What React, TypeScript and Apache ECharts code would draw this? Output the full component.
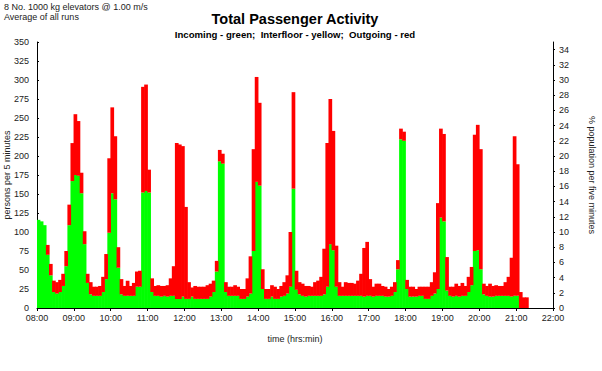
import React, { useEffect, useRef } from "react";
import * as echarts from "echarts";

// 5-minute bins from 08:00 to 22:00
const START_MIN = 480;
const BIN_MIN = 5;
const AXIS_MIN = 480;
const AXIS_MAX = 1320;
const BIN_COUNT = (AXIS_MAX - AXIS_MIN) / BIN_MIN;

// Incoming (green) persons per 5 minutes
const incoming = [
  116, 114, 109, 70, 43, 21, 19, 21, 29, 55, 109, 167,
  175, 174, 151, 84, 33, 18, 16, 16, 16, 21, 38, 99,
  151, 143, 53, 18, 16, 16, 16, 16, 28, 28, 152, 154,
  152, 21, 16, 16, 15, 16, 15, 16, 16, 12, 12, 15,
  12, 12, 15, 12, 12, 12, 12, 12, 15, 21, 48, 193,
  190, 21, 16, 16, 16, 16, 12, 12, 15, 19, 75, 166,
  161, 25, 12, 12, 15, 12, 12, 15, 16, 19, 28, 157,
  24, 18, 16, 15, 16, 16, 16, 16, 16, 18, 28, 84,
  76, 28, 16, 16, 16, 16, 16, 16, 16, 16, 15, 16,
  16, 15, 16, 16, 16, 15, 15, 16, 21, 51, 222, 220,
  25, 15, 15, 15, 16, 16, 12, 12, 16, 19, 25, 119,
  114, 23, 16, 15, 16, 15, 16, 16, 21, 30, 75, 76,
  51, 18, 16, 15, 15, 16, 16, 16, 16, 16, 15, 16,
  16, 0, 0, 0,
];

// Outgoing (red) persons per 5 minutes, stacked on incoming
const outgoing = [
  0, 0, 0, 13, 15, 15, 15, 16, 16, 20, 27, 50,
  80, 72, 27, 17, 12, 16, 12, 12, 13, 20, 33, 98,
  113, 83, 27, 20, 13, 20, 13, 17, 20, 21, 139, 140,
  30, 18, 13, 14, 14, 13, 15, 23, 39, 205, 203, 198,
  121, 22, 12, 17, 16, 16, 16, 18, 17, 15, 14, 15,
  13, 13, 12, 12, 14, 12, 13, 13, 24, 49, 134, 138,
  109, 26, 13, 13, 15, 16, 13, 14, 18, 24, 72, 127,
  25, 16, 16, 14, 13, 12, 18, 20, 25, 60, 189, 191,
  157, 54, 18, 12, 18, 17, 17, 16, 20, 29, 64, 71,
  22, 13, 16, 16, 13, 13, 10, 12, 13, 12, 14, 12,
  12, 13, 13, 10, 12, 12, 16, 16, 18, 28, 113, 117,
  115, 44, 12, 13, 16, 14, 17, 13, 20, 24, 153, 165,
  158, 14, 13, 17, 14, 14, 13, 13, 18, 25, 51, 210,
  173, 21, 14, 14,
];

const leftTicks = { min: 0, max: 350, interval: 25 };
const rightTicks = { min: 0, max: 35, interval: 2 };

const FONT = "'Liberation Sans', Arial, sans-serif";
const TXT = "#222";

function fmtTime(v: number): string {
  const h = Math.floor(v / 60);
  const m = Math.round(v % 60);
  return String(h).padStart(2, "0") + ":" + String(m).padStart(2, "0");
}

const binLabels: string[] = [];
for (let i = 0; i < BIN_COUNT; i++) binLabels.push(fmtTime(START_MIN + BIN_MIN * i));

export default function App() {
  const ref = useRef<HTMLDivElement>(null);
  useEffect(() => {
    document.body.style.margin = "0";
    if (!ref.current) return;
    const chart = echarts.init(ref.current, null, { renderer: "svg" });
    chart.setOption({
      animation: false,
      backgroundColor: "#fff",
      textStyle: { fontFamily: FONT },
      grid: { left: 37, right: 49, top: 42, bottom: 63, containLabel: false, outerBoundsMode: "none" },
      graphic: [
        { type: "text", left: 4, top: 2, style: { text: "8 No. 1000 kg elevators @ 1.00 m/s", fontSize: 9, fill: TXT, fontFamily: FONT } },
        { type: "text", left: 4, top: 12, style: { text: "Average of all runs", fontSize: 9, fill: TXT, fontFamily: FONT } },
        { type: "text", x: 295, y: 18.5, style: { text: "Total Passenger Activity", fontSize: 14.5, fontWeight: "bold", fill: "#000", fontFamily: FONT, align: "center", verticalAlign: "middle" } },
        { type: "text", x: 295, y: 34.5, style: { text: "Incoming - green;  Interfloor - yellow;  Outgoing - red", fontSize: 9.6, fontWeight: "bold", fill: "#000", fontFamily: FONT, align: "center", verticalAlign: "middle" } },
        { type: "text", x: 7, y: 175, rotation: Math.PI / 2, style: { text: "persons per 5 minutes", fontSize: 9, fill: TXT, fontFamily: FONT, align: "center", verticalAlign: "middle" } },
        { type: "text", x: 592, y: 175, rotation: -Math.PI / 2, style: { text: "% population per five minutes", fontSize: 9, fill: TXT, fontFamily: FONT, align: "center", verticalAlign: "middle" } },
      ],
      xAxis: [
        {
          type: "category",
          data: binLabels,
          boundaryGap: true,
          show: false,
        },
        {
          type: "value",
          min: AXIS_MIN,
          max: AXIS_MAX,
          interval: 60,
          position: "bottom",
          name: "time (hrs:min)",
          nameLocation: "middle",
          nameGap: 26,
          nameTextStyle: { fontSize: 9, color: TXT },
          axisLine: { show: true, onZero: false, lineStyle: { color: "#000", width: 1 } },
          axisTick: { show: true, length: 3, lineStyle: { color: "#000" } },
          axisLabel: { fontSize: 9, color: TXT, margin: 5, formatter: (v: number) => fmtTime(v) },
          splitLine: { show: false },
        },
      ],
      yAxis: [
        {
          type: "value",
          position: "left",
          ...leftTicks,
          axisLine: { show: true, lineStyle: { color: "#000", width: 1 } },
          axisTick: { show: true, inside: true, length: 2, lineStyle: { color: "#000" } },
          axisLabel: { fontSize: 9, color: TXT, margin: 8 },
          splitLine: { show: false },
        },
        {
          type: "value",
          position: "right",
          ...rightTicks,
          axisLine: { show: true, lineStyle: { color: "#000", width: 1 } },
          axisTick: { show: true, length: 2, lineStyle: { color: "#000" } },
          axisLabel: { fontSize: 9, color: TXT, margin: 6, showMaxLabel: false },
          splitLine: { show: false },
        },
      ],
      series: [
        {
          name: "Incoming",
          type: "bar",
          stack: "total",
          xAxisIndex: 0,
          yAxisIndex: 0,
          barWidth: 3.7,
          itemStyle: { color: "#00ff00" },
          data: incoming,
        },
        {
          name: "Outgoing",
          type: "bar",
          stack: "total",
          xAxisIndex: 0,
          yAxisIndex: 0,
          barWidth: 3.7,
          itemStyle: { color: "#ff0000" },
          data: outgoing,
        },
      ],
    });
    return () => chart.dispose();
  }, []);
  return <div ref={ref} style={{ width: 602, height: 371 }} />;
}
